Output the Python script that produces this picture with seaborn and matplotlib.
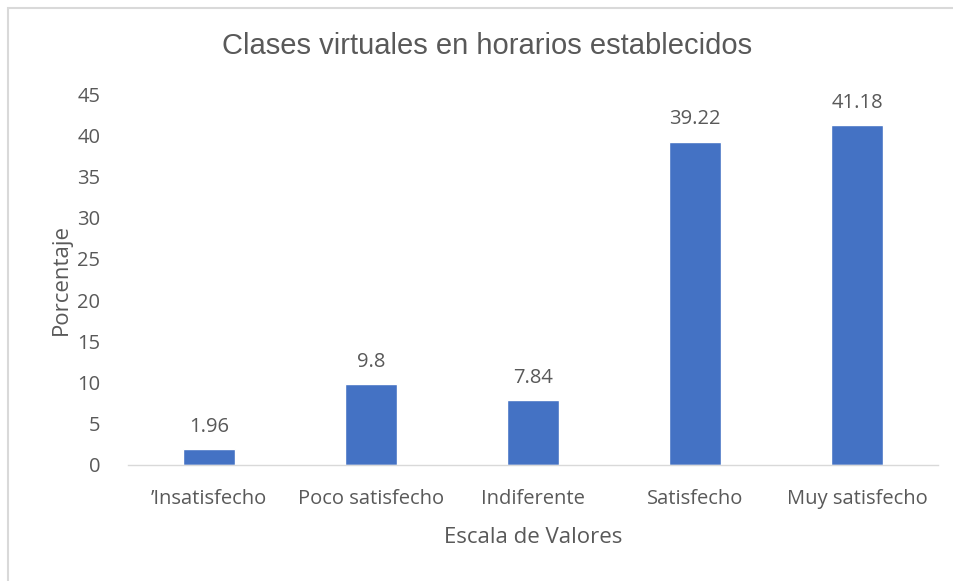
import matplotlib
matplotlib.use("Agg")
import matplotlib.pyplot as plt
import seaborn as sns
import pandas as pd
from matplotlib.patches import Rectangle

categories = ["\u2019Insatisfecho", "Poco satisfecho", "Indiferente", "Satisfecho", "Muy satisfecho"]
values = [1.96, 9.8, 7.84, 39.22, 41.18]
value_labels = ["1.96", "9.8", "7.84", "39.22", "41.18"]
yticks = [0, 5, 10, 15, 20, 25, 30, 35, 40, 45]

sns.set_style("white")
plt.rcParams['font.family'] = ['Open Sans', 'DejaVu Sans']

df = pd.DataFrame({"cat": categories, "val": values})

fig = plt.figure(figsize=(9.54, 5.81), dpi=100)
ax = fig.add_axes([128/954, 1-465/581, 810/954, (465-94)/581])
sns.barplot(data=df, x="cat", y="val", color="#4472C4", width=0.315, ax=ax, saturation=1)

ax.set_ylim(0, 45)
ax.set_yticks(yticks)
ax.set_xlim(-0.5, 4.5)
grey = "#595959"
ax.tick_params(axis="both", colors=grey, labelsize=14.5, length=0)
ax.tick_params(axis="x", pad=17)
ax.tick_params(axis="y", pad=20)
for s in ["top", "right", "left"]:
    ax.spines[s].set_visible(False)
ax.spines["bottom"].set_color("#D9D9D9")
ax.spines["bottom"].set_linewidth(1.0)

for p, lab in zip(ax.patches, value_labels):
    ax.annotate(lab, (p.get_x() + p.get_width()/2, p.get_height()),
                xytext=(0, 16), textcoords="offset points", ha="center", va="center",
                fontsize=14.5, color=grey)

ax.set_xlabel("Escala de Valores", fontsize=16, color=grey, labelpad=13)
ax.set_ylabel("Porcentaje", fontsize=16, color=grey, labelpad=4)
fig.text(487/954, 1-46/581, "Clases virtuales en horarios establecidos", ha="center", va="center",
         fontsize=21, color=grey, family=["Liberation Sans", "DejaVu Sans"])

fig.patches.append(Rectangle((8/954, -0.1), 1.2, 1.1 - 8/581, transform=fig.transFigure,
                             fill=False, edgecolor="#D9D9D9", linewidth=1.5))

fig.savefig("out.png", dpi=100)
